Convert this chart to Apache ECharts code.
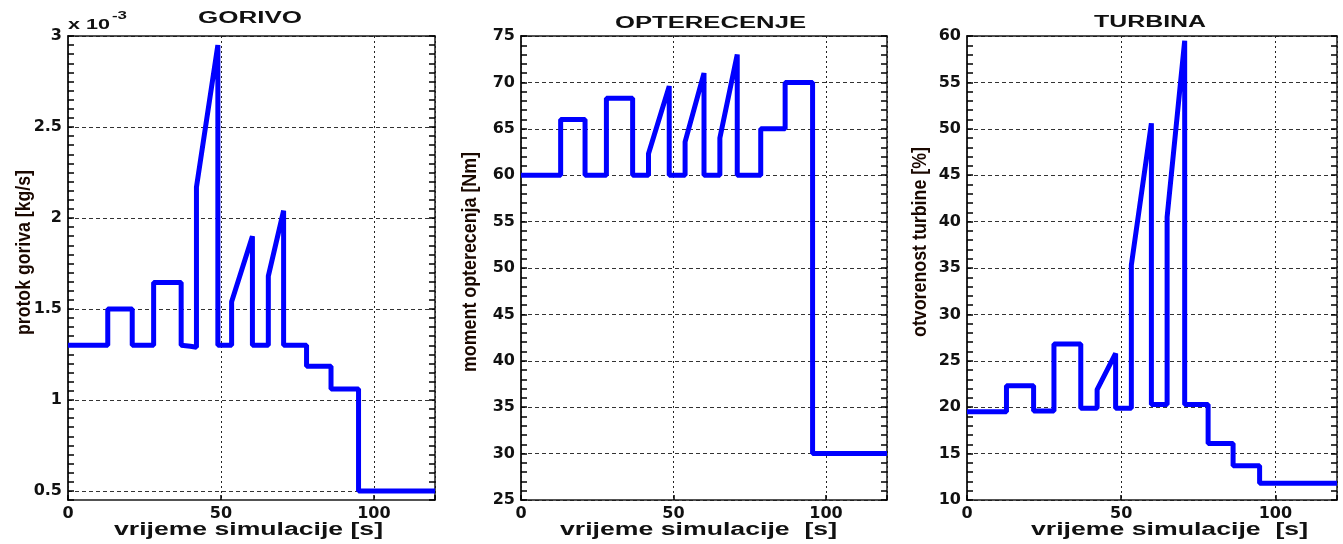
<!DOCTYPE html>
<html>
<head>
<meta charset="utf-8">
<script src="https://cdn.jsdelivr.net/npm/echarts@6/dist/echarts.min.js"></script>
<style>
html,body{margin:0;padding:0;background:#ffffff;}
#c{width:1343px;height:544px;}
</style>
</head>
<body>
<div id="c"></div>
<script>
// ---------------- DATA ----------------
// Panel 1: GORIVO - fuel flow, in units of 1e-3 kg/s
var fuelTime = [0, 13, 13, 21, 21, 28, 28, 37, 37, 40, 42, 42, 49, 49, 53.5, 53.5, 60.3, 60.3, 65.5, 65.5, 70.5, 70.5, 78, 78, 86, 86, 95, 95, 120];
var fuelFlow = [1.30, 1.30, 1.50, 1.50, 1.30, 1.30, 1.645, 1.645, 1.30, 1.295, 1.29, 2.17, 2.95, 1.30, 1.30, 1.54, 1.90, 1.30, 1.30, 1.68, 2.04, 1.30, 1.30, 1.185, 1.185, 1.06, 1.06, 0.50, 0.50];

// Panel 2: OPTERECENJE - load torque [Nm]
var loadTime = [0, 13, 13, 21, 21, 28, 28, 36.6, 36.6, 41.8, 41.8, 48.6, 48.6, 53.8, 53.8, 60, 60, 65.2, 65.2, 70.9, 70.9, 78.6, 78.6, 86.6, 86.6, 95.6, 95.6, 120];
var loadTorque = [60, 60, 66, 66, 60, 60, 68.3, 68.3, 60, 60, 62.3, 69.6, 60, 60, 63.6, 71, 60, 60, 64, 73, 60, 60, 65, 65, 70, 70, 30, 30];

// Panel 3: TURBINA - turbine opening [%]
var turbTime = [0, 12.8, 12.8, 21.6, 21.6, 28.2, 28.2, 36.9, 36.9, 42.2, 42.2, 48.2, 48.2, 53.3, 53.3, 59.8, 59.8, 64.9, 64.9, 70.6, 70.6, 78.2, 78.2, 86.3, 86.3, 94.9, 94.9, 120];
var turbOpen = [19.5, 19.5, 22.3, 22.3, 19.6, 19.6, 26.8, 26.8, 19.9, 19.9, 21.9, 25.8, 19.9, 19.9, 35.3, 50.6, 20.3, 20.3, 40.5, 59.5, 20.3, 20.3, 16.1, 16.1, 13.7, 13.7, 11.8, 11.8];

// Tick labels
var timeTicks = [0, 50, 100];
var fuelTicks = [0.5, 1, 1.5, 2, 2.5, 3];
var loadTicks = [25, 30, 35, 40, 45, 50, 55, 60, 65, 70, 75];
var turbTicks = [10, 15, 20, 25, 30, 35, 40, 45, 50, 55, 60];

// Texts
var titles = ['GORIVO', 'OPTERECENJE', 'TURBINA'];
var yNames = ['protok goriva [kg/s]', 'moment opterecenja [Nm]', 'otvorenost turbine [%]'];
var xNames = ['vrijeme simulacije [s]', 'vrijeme simulacije  [s]', 'vrijeme simulacije  [s]'];

// ---------------- LAYOUT / STYLE ----------------
var panels = [
  { left: 68,  width: 367, yMin: 0.45, yMax: 3,  minor: 0.05, ticks: fuelTicks, t: fuelTime, v: fuelFlow,
    title: { cx: 250, cy: 18.5, w: 104 }, yLab: { cx: 24.5, cy: 252.5, len: 165 }, xLab: { cx: 248.5, w: 269 } },
  { left: 521, width: 366, yMin: 25,   yMax: 75, minor: 1,    ticks: loadTicks, t: loadTime, v: loadTorque,
    title: { cx: 710.5, cy: 23.5, w: 191 }, yLab: { cx: 470, cy: 262, len: 220 }, xLab: { cx: 698.5, w: 277 } },
  { left: 967, width: 370, yMin: 10,   yMax: 60, minor: 1,    ticks: turbTicks, t: turbTime, v: turbOpen,
    title: { cx: 1150, cy: 23, w: 112 }, yLab: { cx: 920, cy: 242, len: 190 }, xLab: { cx: 1169.5, w: 277 } }
];
var GRID_TOP = 36, GRID_H = 464;
var FRAME = '#1a1a1a';
var LABEL_FONT = 'DejaVu Sans';

var measureCtx = document.createElement('canvas').getContext('2d');
function textW(txt, font) { measureCtx.font = font; return measureCtx.measureText(txt).width; }

var grids = [], xAxes = [], yAxes = [], series = [], graphics = [];

panels.forEach(function (p, i) {
  grids.push({ left: p.left, top: GRID_TOP, width: p.width, height: GRID_H });
  // bottom x axis (labels, ticks, dotted vertical grid)
  xAxes.push({
    gridIndex: i, type: 'value', position: 'bottom', min: 0, max: 120, interval: 50,
    axisLine: { show: true, onZero: false, lineStyle: { color: FRAME, width: 1.5 } },
    axisTick: { show: true, inside: true, length: 5, lineStyle: { color: '#000', width: 1.5 } },
    axisLabel: { show: true, margin: 6, color: '#111', fontFamily: LABEL_FONT, fontWeight: 'bold', fontSize: 16,
                 formatter: function (val) { return timeTicks.indexOf(val) >= 0 ? String(val) : ''; } },
    splitLine: { show: true, lineStyle: { color: '#222', width: 1, type: [2, 3] } }
  });
  // top x axis (frame)
  xAxes.push({
    gridIndex: i, type: 'value', position: 'top', min: 0, max: 120, interval: 50,
    axisLine: { show: true, onZero: false, lineStyle: { color: FRAME, width: 1.5 } },
    axisTick: { show: false },
    axisLabel: { show: false },
    splitLine: { show: false }
  });
  // main y axis (frame, labels, dashed horizontal grid)
  var mainIdx = yAxes.length;
  yAxes.push({
    gridIndex: i, type: 'value', position: 'left', min: p.yMin, max: p.yMax,
    axisLine: { show: true, onZero: false, lineStyle: { color: FRAME, width: 1.5 } },
    axisTick: { show: true, inside: true, length: 5, lineStyle: { color: '#000', width: 1.5 }, customValues: p.ticks },
    axisLabel: { show: true, margin: 6, color: '#111', fontFamily: LABEL_FONT, fontWeight: 'bold', fontSize: 16,
                 customValues: p.ticks },
    splitLine: { show: true, lineStyle: { color: '#333', width: 1, type: [4, 3] } }
  });
  // minor ticks on the left and right edges (right one also draws the right frame)
  ['left', 'right'].forEach(function (pos) {
    yAxes.push({
      gridIndex: i, type: 'value', position: pos, min: p.yMin, max: p.yMax, interval: p.minor,
      axisLine: { show: true, onZero: false, lineStyle: { color: FRAME, width: 1.5 } },
      axisTick: { show: true, inside: true, length: 6, lineStyle: { color: '#000', width: 1.5 } },
      axisLabel: { show: false },
      splitLine: { show: false }
    });
  });
  series.push({
    type: 'line', xAxisIndex: i * 2, yAxisIndex: mainIdx,
    data: p.t.map(function (tt, k) { return [tt, p.v[k]]; }),
    showSymbol: false, symbol: 'none', animation: false, clip: true,
    lineStyle: { color: '#0000ff', width: 5, cap: 'butt', join: 'bevel' }, z: 5
  });

  // title
  var tFont = 'bold 16px "Liberation Sans"';
  graphics.push({
    type: 'text', x: p.title.cx, y: p.title.cy, scaleX: p.title.w / textW(titles[i], tFont), silent: true,
    style: { text: titles[i], font: tFont, fill: '#111', textAlign: 'center', textVerticalAlign: 'middle', align: 'center', verticalAlign: 'middle' }
  });
  // y label (rotated)
  var yFont = 'bold 20px "Liberation Sans"';
  graphics.push({
    type: 'text', x: p.yLab.cx, y: p.yLab.cy, rotation: Math.PI / 2, scaleX: p.yLab.len / textW(yNames[i], yFont), silent: true,
    style: { text: yNames[i], font: yFont, fill: '#1a0800', textAlign: 'center', textVerticalAlign: 'middle', align: 'center', verticalAlign: 'middle' }
  });
  // x label
  var xFont = 'bold 18px "Liberation Sans"';
  graphics.push({
    type: 'text', x: p.xLab.cx, y: 530, scaleX: p.xLab.w / textW(xNames[i], xFont), silent: true,
    style: { text: xNames[i], font: xFont, fill: '#111', textAlign: 'center', textVerticalAlign: 'middle', align: 'center', verticalAlign: 'middle' }
  });
});

// exponent marker of the fuel axis
var eFont = 'bold 14px "Liberation Sans"';
graphics.push({
  type: 'text', x: 68, y: 25, scaleX: 42 / textW('x 10', eFont), silent: true,
  style: { text: 'x 10', font: eFont, fill: '#111', textAlign: 'left', textVerticalAlign: 'middle', align: 'left', verticalAlign: 'middle' }
});
var sFont = 'bold 10px "Liberation Sans"';
graphics.push({
  type: 'text', x: 112, y: 16.5, scaleX: 15 / textW('-3', sFont), silent: true,
  style: { text: '-3', font: sFont, fill: '#111', textAlign: 'left', textVerticalAlign: 'middle', align: 'left', verticalAlign: 'middle' }
});

var chart = echarts.init(document.getElementById('c'), null, { renderer: 'canvas', width: 1343, height: 544 });
chart.setOption({
  animation: false,
  grid: grids,
  xAxis: xAxes,
  yAxis: yAxes,
  series: series
});
chart.setOption({ graphic: graphics });
</script>
</body>
</html>
